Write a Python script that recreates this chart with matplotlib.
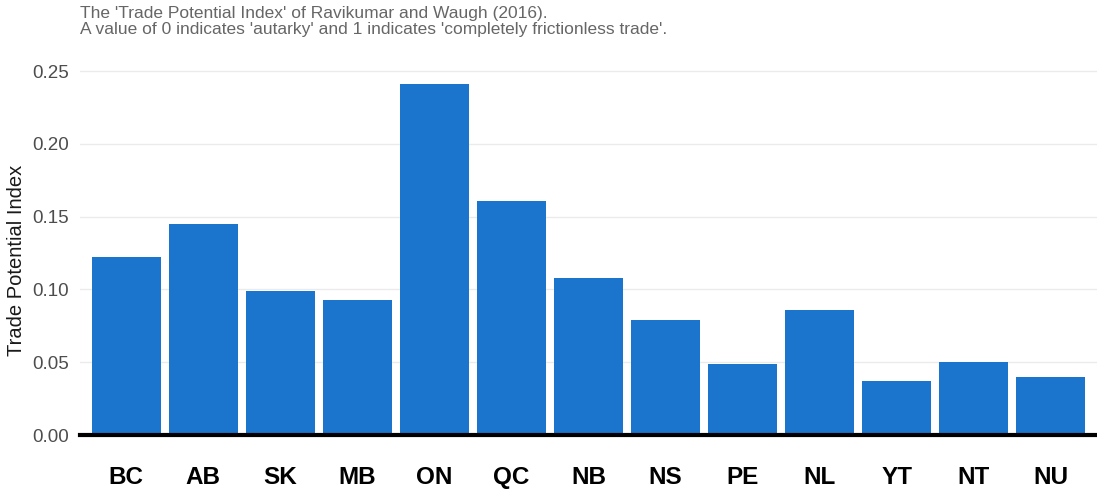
import matplotlib
matplotlib.use("Agg")
import matplotlib.pyplot as plt

plt.rcParams["font.family"] = ["Liberation Sans", "DejaVu Sans"]

provinces = ["BC", "AB", "SK", "MB", "ON", "QC", "NB", "NS", "PE", "NL", "YT", "NT", "NU"]
tpi = [0.122, 0.145, 0.099, 0.093, 0.241, 0.161, 0.108, 0.079, 0.049, 0.086, 0.037, 0.050, 0.040]
yticks = [0.00, 0.05, 0.10, 0.15, 0.20, 0.25]

fig = plt.figure(figsize=(10.97, 4.92), dpi=100)
ax = fig.add_axes([80 / 1097, 57 / 492, 1017 / 1097, 375 / 492])

x = range(len(provinces))
ax.bar(x, tpi, width=0.9, color="#1c75cd", zorder=2)

ax.set_xlim(-0.6, len(provinces) - 0.4)
ax.set_ylim(0, 0.2576)
ax.set_yticks(yticks)
ax.set_yticklabels([f"{v:.2f}" for v in yticks])
ax.set_xticks(list(x))
ax.set_xticklabels(provinces, fontsize=17.5, fontweight="bold", color="black")
ax.tick_params(axis="y", labelsize=13.5, labelcolor="#4d4d4d", length=0, pad=8)
ax.tick_params(axis="x", length=0, pad=22)

ax.grid(axis="y", color="#ebebeb", linewidth=1, zorder=0)
for side in ["top", "right", "left"]:
    ax.spines[side].set_visible(False)
ax.spines["bottom"].set_linewidth(3)
ax.spines["bottom"].set_color("black")
ax.spines["bottom"].set_zorder(3)

ax.set_ylabel("Trade Potential Index", fontsize=14.5, color="#1a1a1a")
ax.yaxis.set_label_coords(-54 / 1017, 0.467)

fig.text(80 / 1097, 1 - 6 / 492,
         "The 'Trade Potential Index' of Ravikumar and Waugh (2016).\n"
         "A value of 0 indicates 'autarky' and 1 indicates 'completely frictionless trade'.",
         fontsize=12.5, color="#666666", va="top", ha="left", linespacing=1.05)

fig.savefig("out.png", dpi=100)
